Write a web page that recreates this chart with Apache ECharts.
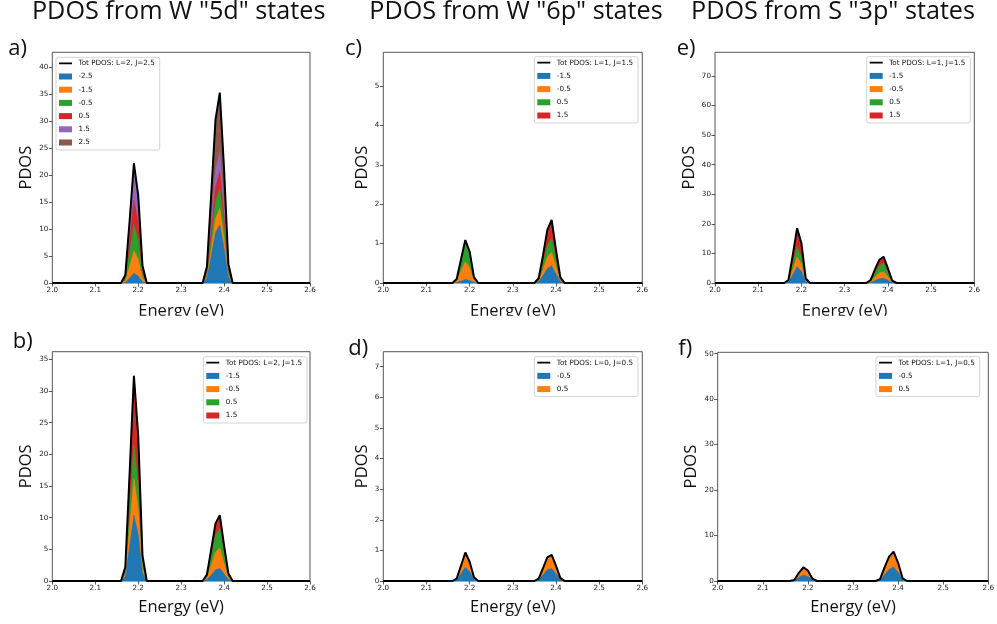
<!DOCTYPE html>
<html><head><meta charset="utf-8">
<script src="https://cdn.jsdelivr.net/npm/echarts@6/dist/echarts.min.js"></script>
<style>html,body{margin:0;padding:0;background:#fff}#c{width:997px;height:624px}</style>
</head><body><div id="c"></div>
<script>
// ---- data (energies in eV, PDOS values) ----
const energies = [2.00, 2.16, 2.17, 2.18, 2.19, 2.20, 2.21, 2.22, 2.35, 2.36, 2.37, 2.38, 2.39, 2.40, 2.41, 2.42, 2.60];
const xTicks = [2.0, 2.1, 2.2, 2.3, 2.4, 2.5, 2.6];

// a) W 5d, J=2.5
const aNames = ['-2.5', '-1.5', '-0.5', '0.5', '1.5', '2.5'];
const aM25 = [0,0,0.1,0.9,1.8,1.3,0.2,0,0,0.9,5.0,9.3,10.8,6.4,1.07,0,0];
const aM15 = [0,0,0.3,2.2,4.2,3.1,0.6,0,0,0.27,1.45,2.65,3.1,1.85,0.3,0,0];
const aM05 = [0,0,0.35,2.5,4.9,3.6,0.7,0,0,0.32,1.75,3.2,3.7,2.2,0.37,0,0];
const aP05 = [0,0,0.3,2.3,4.5,3.3,0.65,0,0,0.27,1.45,2.65,3.1,1.85,0.3,0,0];
const aP15 = [0,0,0.35,2.9,5.5,4.0,0.8,0,0,0.3,1.7,3.1,3.6,2.15,0.36,0,0];
const aP25 = [0,0,0.1,0.7,1.3,1.0,0.25,0,0,0.94,5.15,9.4,11.0,6.55,1.1,0,0];
const aTicks = [0, 5, 10, 15, 20, 25, 30, 35, 40];

// b) W 5d, J=1.5
const bNames = ['-1.5', '-0.5', '0.5', '1.5'];
const bM15 = [0,0,0.7,5.45,10.4,7.4,1.3,0,0,0.19,0.95,1.75,2.0,1.1,0.23,0,0];
const bM05 = [0,0,0.4,3.05,5.8,4.1,0.7,0,0,0.31,1.55,2.8,3.2,1.7,0.37,0,0];
const bP05 = [0,0,0.36,2.8,5.3,3.8,0.65,0,0,0.3,1.5,2.7,3.1,1.7,0.36,0,0];
const bP15 = [0,0,0.74,5.7,10.9,7.7,1.35,0,0,0.2,1.0,1.85,2.1,1.1,0.24,0,0];
const bTicks = [0, 5, 10, 15, 20, 25, 30, 35];

// c) W 6p, J=1.5
const cNames = ['-1.5', '-0.5', '0.5', '1.5'];
const cM15 = [0,0,0.01,0.05,0.09,0.065,0.012,0,0,0.033,0.19,0.37,0.44,0.23,0.04,0,0];
const cM05 = [0,0,0.04,0.25,0.45,0.33,0.06,0,0,0.026,0.15,0.29,0.34,0.18,0.032,0,0];
const cP05 = [0,0,0.045,0.27,0.5,0.37,0.07,0,0,0.026,0.155,0.3,0.35,0.19,0.033,0,0];
const cP15 = [0,0,0.005,0.03,0.05,0.035,0.008,0,0,0.035,0.205,0.39,0.47,0.25,0.045,0,0];
const cTicks = [0, 1, 2, 3, 4, 5];

// d) W 6s, J=0.5
const dNames = ['-0.5', '0.5'];
const dM05 = [0,0,0.04,0.24,0.45,0.3,0.06,0,0,0.04,0.2,0.37,0.41,0.24,0.05,0,0];
const dP05 = [0,0,0.04,0.26,0.48,0.33,0.06,0,0,0.04,0.22,0.4,0.44,0.26,0.05,0,0];
const dTicks = [0, 1, 2, 3, 4, 5, 6, 7];

// e) S 3p, J=1.5
const eNames = ['-1.5', '-0.5', '0.5', '1.5'];
const eM15 = [0,0,0.3,2.8,5.5,4.0,0.45,0,0,0.18,0.8,1.4,1.6,0.9,0.14,0,0];
const eM05 = [0,0,0.18,1.75,3.4,2.45,0.28,0,0,0.25,1.1,1.95,2.2,1.25,0.2,0,0];
const eP05 = [0,0,0.18,1.75,3.4,2.45,0.27,0,0,0.32,1.5,2.5,2.9,1.6,0.26,0,0];
const eP15 = [0,0,0.34,3.2,6.2,4.5,0.5,0,0,0.25,1.1,1.95,2.2,1.25,0.2,0,0];
const eTicks = [0, 10, 20, 30, 40, 50, 60, 70];

// f) S 3p, J=0.5
const fNames = ['-0.5', '0.5'];
const fM05 = [0,0,0.09,0.78,1.3,1.0,0.22,0,0,0.19,1.45,2.55,3.1,1.9,0.29,0,0];
const fP05 = [0,0,0.11,1.02,1.7,1.3,0.28,0,0,0.21,1.55,2.8,3.35,2.1,0.31,0,0];
const fTicks = [0, 10, 20, 30, 40, 50];

const titles = ['PDOS from W "5d" states', 'PDOS from W "6p" states', 'PDOS from S "3p" states'];

// ---- layout / style ----
const COLORS = ['#1f77b4', '#ff7f0e', '#2ca02c', '#d62728', '#9467bd', '#8c564b'];
const LINE_ICON = 'path://M0,0L13,0L13,0.01L0,0.01Z M0,2.1L13,2.1L13,3.9L0,3.9Z M0,5.99L13,5.99L13,6L0,6Z';

const panels = [
  {key:'a', comps:[aM25,aM15,aM05,aP05,aP15,aP25], names:aNames, total:'Tot PDOS: L=2, J=2.5', yMax:42.8, yTicks:aTicks,
   grid:{left:52.3, top:52.3, width:257.7, height:230.7}, legend:{left:56, top:57.3}, yGap:16.5, xGap:19.3, lab:[8.3,48.5]},
  {key:'c', comps:[cM15,cM05,cP05,cP15], names:cNames, total:'Tot PDOS: L=1, J=1.5', yMax:5.86, yTicks:cTicks,
   grid:{left:383.3, top:52.3, width:259, height:230.7}, legend:{left:534.3, top:56.7}, yGap:11.5, xGap:19.3, lab:[345,48.5]},
  {key:'e', comps:[eM15,eM05,eP05,eP15], names:eNames, total:'Tot PDOS: L=1, J=1.5', yMax:78, yTicks:eTicks,
   grid:{left:715, top:52.3, width:259.3, height:230.7}, legend:{left:866.7, top:56.7}, yGap:15.7, xGap:19.3, lab:[676.7,48.5]},
  {key:'b', comps:[bM15,bM05,bP05,bP15], names:bNames, total:'Tot PDOS: L=2, J=1.5', yMax:36.2, yTicks:bTicks,
   grid:{left:52.3, top:351.7, width:257.7, height:229.3}, legend:{left:203.3, top:356.7}, yGap:16.5, xGap:17.3, lab:[12.7,342]},
  {key:'d', comps:[dM05,dP05], names:dNames, total:'Tot PDOS: L=0, J=0.5', yMax:7.49, yTicks:dTicks,
   grid:{left:383.3, top:351.7, width:259, height:229.3}, legend:{left:534.3, top:356.7}, yGap:11.5, xGap:17.3, lab:[348.3,348.5]},
  {key:'f', comps:[fM05,fP05], names:fNames, total:'Tot PDOS: L=1, J=0.5', yMax:50.3, yTicks:fTicks,
   grid:{left:717.7, top:352.3, width:270.6, height:228.7}, legend:{left:876, top:356.7}, yGap:18, xGap:17.3, lab:[678.3,348.5]}
];

const TICK_FONT = {fontFamily:'DejaVu Sans', fontSize:7.2, color:'#222'};
const NAME_FONT = {fontFamily:'Open Sans', fontSize:16.5, color:'#111'};

const grid = [], xAxis = [], yAxis = [], series = [], legend = [];
panels.forEach((p, i) => {
  grid.push(Object.assign({show:true, borderColor:'#555', borderWidth:1, backgroundColor:'transparent', containLabel:false}, p.grid));
  xAxis.push({type:'value', gridIndex:i, min:2.0, max:2.6,
    axisLine:{show:false}, splitLine:{show:false},
    axisTick:{show:true, length:3.5, lineStyle:{color:'#333', width:0.8}, customValues:xTicks},
    axisLabel:Object.assign({customValues:xTicks, formatter:v => v.toFixed(1), margin:3.5}, TICK_FONT),
    name:'Energy (eV)', nameLocation:'middle', nameGap:p.xGap, nameTextStyle:NAME_FONT});
  yAxis.push({type:'value', gridIndex:i, min:0, max:p.yMax,
    axisLine:{show:false}, splitLine:{show:false},
    axisTick:{show:true, length:3.5, lineStyle:{color:'#333', width:0.8}, customValues:p.yTicks},
    axisLabel:Object.assign({customValues:p.yTicks, formatter:v => String(v), margin:4}, TICK_FONT),
    name:'PDOS', nameLocation:'middle', nameGap:p.yGap, nameTextStyle:NAME_FONT});
  // stacked layers: cumulative tops, drawn from the top layer down, each filled to zero
  const cum = [];
  p.comps.forEach((arr, j) => cum.push(arr.map((v, k) => v + (j ? cum[j - 1][k] : 0))));
  for (let j = p.comps.length - 1; j >= 0; j--) {
    const c = COLORS[j];
    series.push({type:'line', name:p.key + '|' + p.names[j], xAxisIndex:i, yAxisIndex:i,
      data:energies.map((x, k) => [x, cum[j][k]]), symbol:'none', showSymbol:false,
      lineStyle:{width:0.5, color:c}, itemStyle:{color:c}, areaStyle:{color:c, opacity:1, origin:'start'}, z:2});
  }
  const tot = cum[cum.length - 1];
  series.push({type:'line', name:p.key + '|' + p.total, xAxisIndex:i, yAxisIndex:i,
    data:energies.map((x, k) => [x, tot[k]]),
    symbol:'none', showSymbol:false, lineStyle:{width:2, color:'#000'}, itemStyle:{color:'#000'}, z:3});
  legend.push({orient:'vertical', left:p.legend.left, top:p.legend.top, selectedMode:false,
    itemWidth:13, itemHeight:6, itemGap:3.2, padding:[1, 5, 2.5, 3],
    backgroundColor:'rgba(255,255,255,0.85)', borderColor:'#d4d4d4', borderWidth:1, borderRadius:2,
    textStyle:{fontFamily:'DejaVu Sans', fontSize:7.2, color:'#111', lineHeight:10, padding:[0,0,0,1.5]},
    formatter:n => n.split('|')[1],
    data:[{name:p.key + '|' + p.total, icon:LINE_ICON}].concat(p.names.map(n => ({name:p.key + '|' + n, icon:'rect'})))});
});

const graphic = [];
const titleX = [178.7, 516, 833];
titles.forEach((t, i) => graphic.push({type:'text', x:titleX[i], y:12.3, z:50,
  style:{text:t, fontFamily:'Open Sans', fontSize:25.2, fill:'#111', align:'center', verticalAlign:'middle'}}));
panels.forEach(p => graphic.push({type:'text', x:p.lab[0], y:p.lab[1], z:50,
  style:{text:p.key + ')', fontFamily:'Open Sans', fontSize:22, fill:'#111', align:'left', verticalAlign:'middle'}}));
// the top-row x labels are cropped at their baseline in the reference
graphic.push({type:'rect', shape:{x:0, y:315.8, width:997, height:14}, style:{fill:'#fff'}, z:100});

const chart = echarts.init(document.getElementById('c'), null, {renderer:'canvas'});
chart.setOption({animation:false, backgroundColor:'#fff', grid, xAxis, yAxis, series, legend, graphic});
</script></body></html>
